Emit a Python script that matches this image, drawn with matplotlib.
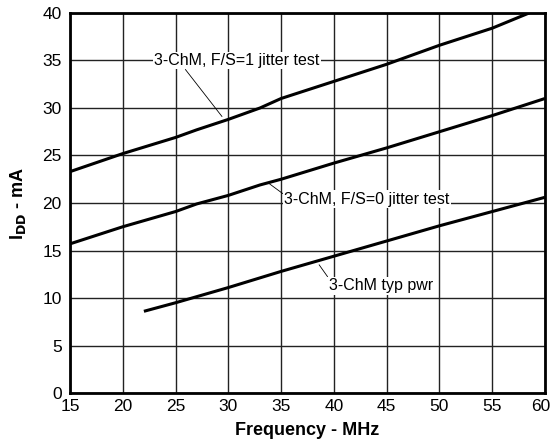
import matplotlib.pyplot as plt
import matplotlib.transforms as mtransforms
import numpy as np

plt.rcParams['font.family'] = ['Liberation Sans', 'DejaVu Sans']

# F/S=1 jitter test
freq_fs1 = [15, 20, 25, 27, 30, 33, 35, 40, 45, 50, 55, 58.5]
idd_fs1 = [23.3, 25.2, 26.9, 27.7, 28.8, 30.0, 31.0, 32.8, 34.6, 36.6, 38.4, 40.0]
# F/S=0 jitter test
freq_fs0 = [15, 20, 25, 27, 30, 33, 35, 40, 45, 50, 55, 60]
idd_fs0 = [15.7, 17.5, 19.1, 19.9, 20.8, 21.9, 22.5, 24.2, 25.8, 27.5, 29.2, 31.0]
# typical power
freq_typ = [22, 25, 30, 35, 40, 45, 50, 55, 60]
idd_typ = [8.6, 9.5, 11.1, 12.8, 14.4, 16.0, 17.6, 19.1, 20.6]

x_ticks = list(range(15, 61, 5))
y_ticks = list(range(0, 41, 5))

fig = plt.figure(figsize=(5.53, 4.46), dpi=100)
ax = fig.add_axes([0.1266, 0.1188, 0.8589, 0.8521])

ax.set_xlim(15, 60)
ax.set_ylim(0, 40)
ax.set_xticks(x_ticks)
ax.set_yticks(y_ticks)
ax.tick_params(length=0, labelsize=12.5)
ax.tick_params(axis='x', pad=4)
ax.tick_params(axis='y', pad=6)
ax.grid(True, color='#222222', linewidth=1.0)
ax.set_axisbelow(True)
for s in ax.spines.values():
    s.set_linewidth(2)

# nudge the last x label left so it stays inside the figure
last = ax.get_xticklabels()[-1]
last.set_transform(last.get_transform() +
                   mtransforms.ScaledTranslation(-4 / 100, 0, fig.dpi_scale_trans))

for xs, ys in [(freq_fs1, idd_fs1), (freq_fs0, idd_fs0), (freq_typ, idd_typ)]:
    ax.plot(xs, ys, color='black', linewidth=2.2, solid_capstyle='butt', zorder=3)

box = dict(facecolor='white', edgecolor='none', pad=1)
ax.annotate('3-ChM, F/S=1 jitter test', xy=(29.4, 29.1), xytext=(23.0, 35.0),
            fontsize=11.5, va='center', ha='left', bbox=box, zorder=4,
            arrowprops=dict(arrowstyle='-', color='black', lw=0.6,
                            shrinkA=0, shrinkB=0, relpos=(0.18, 0.0)))
ax.annotate('3-ChM, F/S=0 jitter test', xy=(33.8, 22.1), xytext=(35.3, 20.4),
            fontsize=11.5, va='center', ha='left', bbox=box, zorder=4,
            arrowprops=dict(arrowstyle='-', color='black', lw=0.6,
                            shrinkA=0, shrinkB=0, relpos=(0.0, 0.8)))
ax.annotate('3-ChM typ pwr', xy=(38.6, 13.5), xytext=(39.5, 11.3),
            fontsize=11.5, va='center', ha='left', bbox=box, zorder=4,
            arrowprops=dict(arrowstyle='-', color='black', lw=0.6,
                            shrinkA=0, shrinkB=0, relpos=(0.0, 1.0)))

ax.set_xlabel('Frequency - MHz', fontsize=13, fontweight='bold', labelpad=6)
ax.set_ylabel(r'I$_{\mathbf{DD}}$ - mA', fontsize=13, fontweight='bold', labelpad=10)

fig.savefig('out.png', dpi=100)
